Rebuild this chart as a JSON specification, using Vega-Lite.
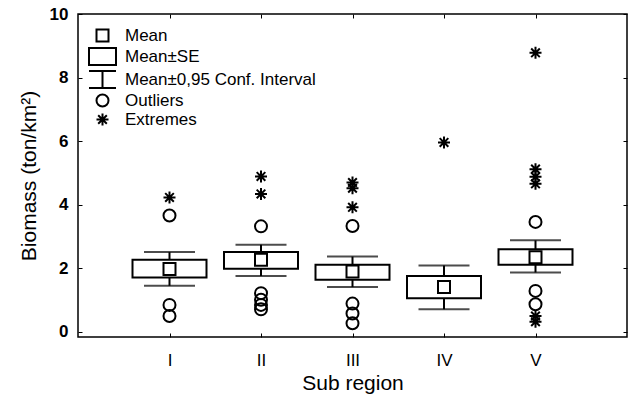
{
  "$schema": "https://vega.github.io/schema/vega-lite/v6.json",
  "width": 549,
  "height": 323,
  "autosize": {"type": "none"},
  "padding": {"left": 78, "top": 14, "right": 1, "bottom": 66},
  "background": "white",
  "config": {
    "font": "Liberation Sans",
    "view": {"stroke": "black", "strokeWidth": 1.5},
    "axis": {"grid": false, "domain": false, "tickColor": "black", "tickWidth": 1, "labelColor": "black", "titleColor": "black", "titleFontWeight": "normal"}
  },
  "datasets": {
    "summary": [
      {"region": "I", "mean": 1.98, "se_lo": 1.71, "se_hi": 2.27, "ci_lo": 1.45, "ci_hi": 2.51},
      {"region": "II", "mean": 2.27, "se_lo": 1.99, "se_hi": 2.51, "ci_lo": 1.76, "ci_hi": 2.74},
      {"region": "III", "mean": 1.90, "se_lo": 1.64, "se_hi": 2.11, "ci_lo": 1.41, "ci_hi": 2.37},
      {"region": "IV", "mean": 1.41, "se_lo": 1.06, "se_hi": 1.76, "ci_lo": 0.71, "ci_hi": 2.09},
      {"region": "V", "mean": 2.35, "se_lo": 2.11, "se_hi": 2.60, "ci_lo": 1.87, "ci_hi": 2.88}
    ],
    "pts": [
      {"region": "I", "type": "Mean", "value": 1.98},
      {"region": "II", "type": "Mean", "value": 2.27},
      {"region": "III", "type": "Mean", "value": 1.90},
      {"region": "IV", "type": "Mean", "value": 1.41},
      {"region": "V", "type": "Mean", "value": 2.35},
      {"region": "I", "type": "Outliers", "value": 3.66},
      {"region": "I", "type": "Outliers", "value": 0.85},
      {"region": "I", "type": "Outliers", "value": 0.50},
      {"region": "I", "type": "Extremes", "value": 4.23},
      {"region": "II", "type": "Outliers", "value": 3.32},
      {"region": "II", "type": "Outliers", "value": 1.22},
      {"region": "II", "type": "Outliers", "value": 1.01},
      {"region": "II", "type": "Outliers", "value": 0.85},
      {"region": "II", "type": "Outliers", "value": 0.71},
      {"region": "II", "type": "Extremes", "value": 4.89},
      {"region": "II", "type": "Extremes", "value": 4.34},
      {"region": "III", "type": "Outliers", "value": 3.33},
      {"region": "III", "type": "Outliers", "value": 0.89},
      {"region": "III", "type": "Outliers", "value": 0.58},
      {"region": "III", "type": "Outliers", "value": 0.27},
      {"region": "III", "type": "Extremes", "value": 4.70},
      {"region": "III", "type": "Extremes", "value": 4.52},
      {"region": "III", "type": "Extremes", "value": 3.92},
      {"region": "IV", "type": "Extremes", "value": 5.96},
      {"region": "V", "type": "Outliers", "value": 3.46},
      {"region": "V", "type": "Outliers", "value": 1.29},
      {"region": "V", "type": "Outliers", "value": 0.87},
      {"region": "V", "type": "Extremes", "value": 8.78},
      {"region": "V", "type": "Extremes", "value": 5.12},
      {"region": "V", "type": "Extremes", "value": 4.88},
      {"region": "V", "type": "Extremes", "value": 4.66},
      {"region": "V", "type": "Extremes", "value": 0.50},
      {"region": "V", "type": "Extremes", "value": 0.32}
    ]
  },
  "layer": [
    {
      "data": {"name": "summary"},
      "mark": {"type": "rule", "color": "black", "strokeWidth": 2},
      "encoding": {
        "x": {"field": "region", "type": "nominal",
          "scale": {"type": "point", "padding": 1, "domain": ["I", "II", "III", "IV", "V"]},
          "axis": {"orient": "bottom", "title": "Sub region", "labelAngle": 0, "labelFontSize": 17, "tickSize": -4, "labelPadding": 19, "titleFontSize": 21, "titlePadding": 4}},
        "y": {"field": "ci_lo", "type": "quantitative",
          "scale": {"domain": [-0.16, 10], "nice": false, "zero": false},
          "axis": {"orient": "left", "title": "Biomass (ton/km²)", "values": [0, 2, 4, 6, 8, 10], "labelFontSize": 17, "labelFontWeight": "bold", "tickSize": -4, "labelPadding": 14, "titleFontSize": 21, "titlePadding": 10}},
        "y2": {"field": "ci_hi"}
      }
    },
    {
      "data": {"name": "summary"},
      "mark": {"type": "bar", "width": 74, "fill": "white", "stroke": "black", "strokeWidth": 2},
      "encoding": {
        "x": {"field": "region", "type": "nominal", "axis": null},
        "y": {"field": "se_lo", "type": "quantitative", "axis": null},
        "y2": {"field": "se_hi"}
      }
    },
    {
      "data": {"name": "summary"},
      "mark": {"type": "tick", "size": 51, "thickness": 2, "color": "black"},
      "encoding": {
        "x": {"field": "region", "type": "nominal",
          "axis": {"orient": "top", "title": null, "labels": false, "tickSize": -4}},
        "y": {"field": "ci_lo", "type": "quantitative",
          "axis": {"orient": "right", "title": null, "labels": false, "values": [0, 2, 4, 6, 8, 10], "tickSize": -4}}
      }
    },
    {
      "data": {"name": "summary"},
      "mark": {"type": "tick", "size": 51, "thickness": 2, "color": "black"},
      "encoding": {
        "x": {"field": "region", "type": "nominal", "axis": null},
        "y": {"field": "ci_hi", "type": "quantitative", "axis": null}
      }
    },
    {
      "data": {"name": "pts"},
      "mark": {"type": "point", "filled": false, "color": "black", "strokeWidth": 2, "size": 144, "opacity": 1},
      "encoding": {
        "x": {"field": "region", "type": "nominal", "axis": null},
        "y": {"field": "value", "type": "quantitative", "axis": null},
        "shape": {"field": "type", "type": "nominal",
          "scale": {
            "domain": ["Mean", "Mean±SE", "Mean±0,95 Conf. Interval", "Outliers", "Extremes"],
            "range": [
              "M-1,-1H1V1H-1Z",
              "M-2.25,-1.4H2.25V1.4H-2.25Z",
              "M-2.25,-1.4H2.25M0,-1.4V1.4M-2.25,1.4H2.25",
              "circle",
              "M-1,0H1M0,-1V1M-0.72,-0.72L0.72,0.72M-0.72,0.72L0.72,-0.72"
            ]
          },
          "legend": {
            "title": null, "orient": "none", "legendX": 16, "legendY": 13,
            "symbolSize": 144, "symbolStrokeWidth": 2, "symbolStrokeColor": "black", "symbolFillColor": "transparent",
            "labelFontSize": 17, "labelColor": "black", "labelOffset": 14, "labelLimit": 0, "rowPadding": -2, "padding": 0
          }
        }
      }
    }
  ]
}
